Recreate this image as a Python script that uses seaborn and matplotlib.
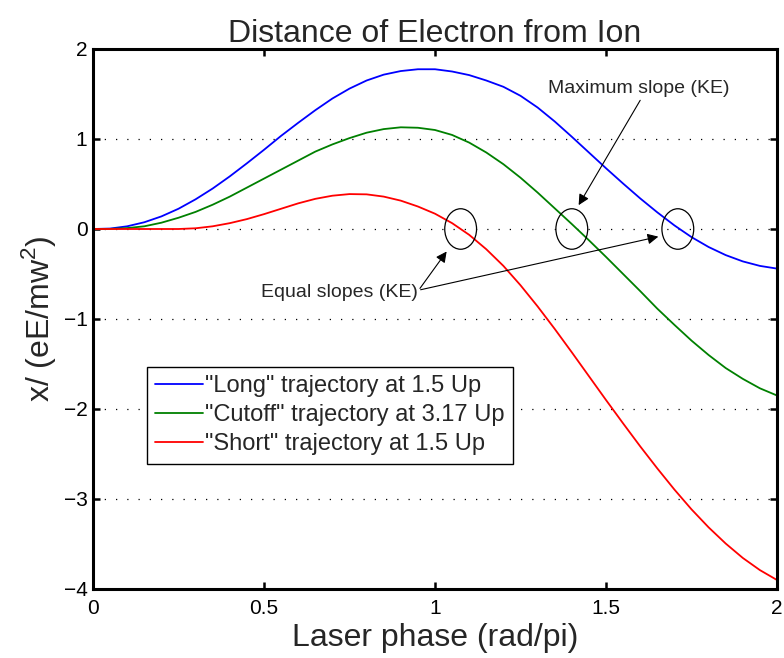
import matplotlib
matplotlib.use("Agg")
import matplotlib.pyplot as plt
from matplotlib.patches import Ellipse
import pandas as pd
import seaborn as sns

# Laser phase in units of pi
phase = [0.00, 0.05, 0.10, 0.15, 0.20, 0.25, 0.30, 0.35, 0.40, 0.45,
         0.50, 0.55, 0.60, 0.65, 0.70, 0.75, 0.80, 0.85, 0.90, 0.95,
         1.00, 1.05, 1.10, 1.15, 1.20, 1.25, 1.30, 1.35, 1.40, 1.45,
         1.50, 1.55, 1.60, 1.65, 1.70, 1.75, 1.80, 1.85, 1.90, 1.95, 2.00]

# Electron excursion x / (eE/m w^2)
long_traj = [0.000, 0.005, 0.030, 0.075, 0.140, 0.225, 0.330, 0.450, 0.585, 0.730,
             0.880, 1.035, 1.180, 1.320, 1.450, 1.560, 1.650, 1.715, 1.755, 1.775,
             1.775, 1.750, 1.710, 1.650, 1.580, 1.480, 1.350, 1.195, 1.025, 0.850,
             0.675, 0.505, 0.340, 0.185, 0.040, -0.090, -0.200, -0.290, -0.360, -0.410, -0.440]

cutoff_traj = [0.000, 0.001, 0.010, 0.030, 0.070, 0.125, 0.190, 0.270, 0.360, 0.460,
               0.560, 0.660, 0.760, 0.860, 0.940, 1.010, 1.070, 1.110, 1.130, 1.125,
               1.100, 1.045, 0.960, 0.850, 0.720, 0.570, 0.405, 0.230, 0.055, -0.125,
               -0.310, -0.500, -0.690, -0.885, -1.065, -1.240, -1.400, -1.545, -1.665, -1.770, -1.850]

short_traj = [0.000, 0.000, 0.000, 0.000, 0.000, 0.000, 0.008, 0.030, 0.065, 0.110,
              0.165, 0.225, 0.285, 0.335, 0.370, 0.388, 0.385, 0.360, 0.315, 0.250,
              0.170, 0.065, -0.065, -0.225, -0.410, -0.625, -0.860, -1.110, -1.370, -1.635,
              -1.900, -2.160, -2.415, -2.660, -2.895, -3.115, -3.315, -3.495, -3.655, -3.790, -3.900]

labels = ['"Long" trajectory at 1.5 Up',
          '"Cutoff" trajectory at 3.17 Up',
          '"Short" trajectory at 1.5 Up']
colors = ["#0000ff", "#008000", "#ff0000"]

x_ticks = [0, 0.5, 1, 1.5, 2]
x_tick_labels = ["0", "0.5", "1", "1.5", "2"]
y_ticks = [-4, -3, -2, -1, 0, 1, 2]

# Marked zero crossings (phase positions)
ellipse_x = [1.075, 1.40, 1.71]

sns.set_style("ticks")
plt.rcParams["font.family"] = ["Liberation Sans", "DejaVu Sans"]
plt.rcParams["mathtext.fontset"] = "custom"
plt.rcParams["mathtext.rm"] = "Liberation Sans"

df = pd.concat([
    pd.DataFrame({"phase": phase, "x": vals, "trajectory": lab})
    for vals, lab in zip([long_traj, cutoff_traj, short_traj], labels)
], ignore_index=True)

fig = plt.figure(figsize=(7.84, 6.58), dpi=100)
ax = fig.add_axes([93 / 784, 1 - 589 / 658, 684 / 784, 540 / 658])

sns.lineplot(data=df, x="phase", y="x", hue="trajectory", hue_order=labels,
             palette=colors, linewidth=1.3, sort=False, estimator=None,
             ax=ax, legend=False)

ax.set_xlim(0, 2)
ax.set_ylim(-4, 2)
ax.set_xticks(x_ticks)
ax.set_xticklabels(x_tick_labels)
ax.set_yticks(y_ticks)

ax.yaxis.grid(True, linestyle=(0, (1, 8)), color="k", linewidth=0.9)
ax.xaxis.grid(False)

for s in ax.spines.values():
    s.set_visible(True)
    s.set_linewidth(2.2)
    s.set_color("k")

ax.tick_params(direction="in", length=5, width=1.8, top=True, right=True,
               labelsize=15, pad=7, colors="k")
ax.tick_params(axis="y", pad=4)

ax.set_title("Distance of Electron from Ion", fontsize=23, pad=5)
ax.set_xlabel("Laser phase (rad/pi)", fontsize=23, labelpad=4)
ax.set_ylabel(r"x/ (eE/mw$^\mathregular{2}$)", fontsize=23, labelpad=4)

for cx in ellipse_x:
    ax.add_patch(Ellipse((cx, 0.0), 0.093, 0.45, fill=False, ec="k", lw=0.9, zorder=5))

arrow = dict(arrowstyle="-|>", color="k", lw=0.8, mutation_scale=16,
             shrinkA=0, shrinkB=0)

ax.text(1.597, 1.556, "Maximum slope (KE)", fontsize=14, ha="center", va="center")
ax.annotate("", xy=(1.42, 0.265), xytext=(1.60, 1.43), arrowprops=arrow)

ax.text(0.72, -0.706, "Equal slopes (KE)", fontsize=14, ha="center", va="center")
ax.annotate("", xy=(1.034, -0.25), xytext=(0.956, -0.66), arrowprops=arrow)
ax.annotate("", xy=(1.653, -0.085), xytext=(0.958, -0.675), arrowprops=arrow)

handles = [plt.Line2D([], [], color=c, lw=1.3) for c in colors]
leg = ax.legend(handles, labels, loc="upper left", bbox_to_anchor=(0.079, 0.411),
                fontsize=17, frameon=True, fancybox=False, edgecolor="k",
                framealpha=1, handlelength=2.0, handletextpad=0.1,
                borderpad=0.35, labelspacing=0.3, borderaxespad=0)
leg.get_frame().set_linewidth(1.0)

fig.savefig("out.png", dpi=100)
